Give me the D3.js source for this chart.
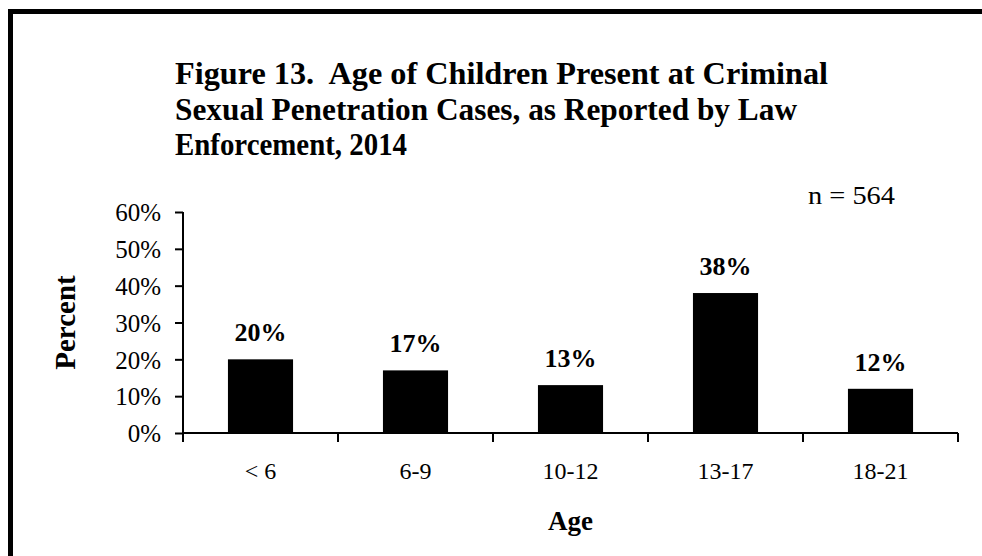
<!DOCTYPE html>
<html>
<head>
<meta charset="utf-8">
<script src="https://cdn.jsdelivr.net/npm/d3@7"></script>
<style>
  html, body { margin: 0; padding: 0; background: #fff; overflow: hidden; width: 982px; height: 556px; }
  svg { display: block; position: absolute; left: 0; top: 0; overflow: hidden; }
  text { font-family: "Liberation Serif", "Times New Roman", serif; fill: #000; white-space: pre; }
</style>
</head>
<body>
<svg id="chart" width="982" height="556" viewBox="0 0 982 556"></svg>
<script>
const categories = ["< 6", "6-9", "10-12", "13-17", "18-21"];
const values = [0.20, 0.17, 0.13, 0.38, 0.12];
const valueLabels = ["20%", "17%", "13%", "38%", "12%"];
const yTicks = [0, 0.1, 0.2, 0.3, 0.4, 0.5, 0.6];
const titleLines = [
  "Figure 13.  Age of Children Present at Criminal",
  "Sexual Penetration Cases, as Reported by Law",
  "Enforcement, 2014"
];
const titleWidths = [653, 622, 232];
const note = "n = 564";
const xTitle = "Age";
const yTitle = "Percent";

const W = 982, H = 556;
const svg = d3.select("#chart");
const serif = "'Liberation Serif', 'Times New Roman', serif";

// outer frame: only left and top edges are visible
svg.append("path")
  .attr("d", `M10.5,${H + 10}V11.5H${W + 10}`)
  .attr("fill", "none").attr("stroke", "#000").attr("stroke-width", 5);

const pLeft = 183, pRight = 958, pTop = 212, pBottom = 433;

const x = d3.scaleBand().domain(categories).range([pLeft, pRight])
  .paddingInner(0.58).paddingOuter(0.29);
const y = d3.scaleLinear().domain([0, 0.6]).range([pBottom, pTop]);

// title
titleLines.forEach((t, i) => {
  svg.append("text").attr("x", 175).attr("y", 84 + i * 35.5)
    .attr("font-weight", "bold").attr("font-size", 32)
    .attr("textLength", titleWidths[i]).attr("lengthAdjust", "spacingAndGlyphs")
    .text(t);
});

// n note
svg.append("text").attr("x", 808).attr("y", 204)
  .attr("font-size", 25)
  .attr("textLength", 87).attr("lengthAdjust", "spacingAndGlyphs")
  .text(note);

// bars
svg.append("g").selectAll("rect").data(categories).join("rect")
  .attr("x", d => x(d))
  .attr("width", x.bandwidth())
  .attr("y", (d, i) => y(values[i]))
  .attr("height", (d, i) => y(0) - y(values[i]))
  .attr("fill", "#000");

// value labels
svg.append("g").selectAll("text").data(categories).join("text")
  .attr("x", d => x(d) + x.bandwidth() / 2)
  .attr("y", (d, i) => y(values[i]) - 18)
  .attr("text-anchor", "middle")
  .attr("font-weight", "bold").attr("font-size", 26)
  .text((d, i) => valueLabels[i]);

// y axis
const yAxis = svg.append("g").attr("transform", `translate(${pLeft},0)`)
  .call(d3.axisLeft(y).tickValues(yTicks).tickFormat(d3.format(".0%")).tickSize(8).tickPadding(14));
yAxis.select(".domain").attr("stroke", "#000").attr("stroke-width", 2)
  .attr("d", `M0,${pTop}V${pBottom}`);
yAxis.selectAll(".tick line").attr("stroke", "#000").attr("stroke-width", 2);
yAxis.selectAll(".tick text").attr("font-size", 25)
  .attr("font-family", serif).attr("fill", "#000")
  .attr("dy", "0.35em");

// x axis
const xAxis = svg.append("g").attr("transform", `translate(0,${pBottom})`)
  .call(d3.axisBottom(x).tickSize(0).tickPadding(29));
xAxis.select(".domain").attr("stroke", "#000").attr("stroke-width", 2)
  .attr("d", `M${pLeft},0H${pRight}`);
xAxis.selectAll(".tick text").attr("font-size", 24)
  .attr("font-family", serif).attr("fill", "#000");
// boundary ticks between categories
const bounds = d3.range(categories.length + 1).map(i => pLeft + i * x.step());
xAxis.append("g").selectAll("line").data(bounds).join("line")
  .attr("x1", d => d).attr("x2", d => d)
  .attr("y1", 0).attr("y2", 9)
  .attr("stroke", "#000").attr("stroke-width", 2);

// axis titles
svg.append("text").attr("x", (pLeft + pRight) / 2).attr("y", 530)
  .attr("text-anchor", "middle").attr("font-weight", "bold").attr("font-size", 27)
  .text(xTitle);
svg.append("text")
  .attr("transform", `translate(75,${(pTop + pBottom) / 2}) rotate(-90)`)
  .attr("text-anchor", "middle").attr("font-weight", "bold").attr("font-size", 29)
  .text(yTitle);
</script>
</body>
</html>
